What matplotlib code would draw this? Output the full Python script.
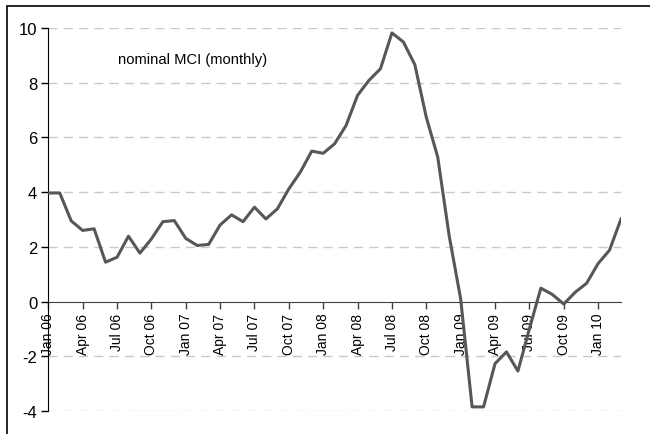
import numpy as np
import matplotlib.pyplot as plt
from matplotlib.patches import Rectangle

plt.rcParams['font.family'] = ['Liberation Sans', 'DejaVu Sans']
plt.rcParams['axes.unicode_minus'] = False

# monthly nominal MCI, Jan 06 .. Mar 10
mci = [3.97, 3.97, 2.95, 2.60, 2.66, 1.44, 1.62, 2.39, 1.77, 2.29, 2.92, 2.96,
       2.31, 2.05, 2.09, 2.80, 3.17, 2.92, 3.45, 3.02, 3.39, 4.12, 4.73, 5.50,
       5.42, 5.77, 6.44, 7.54, 8.09, 8.51, 9.82, 9.49, 8.66, 6.74, 5.28, 2.40,
       0.10, -3.85, -3.85, -2.27, -1.84, -2.54, -1.00, 0.49, 0.26, -0.09, 0.34, 0.67,
       1.39, 1.88, 3.02]
months = ['Jan', 'Feb', 'Mar', 'Apr', 'May', 'Jun',
          'Jul', 'Aug', 'Sep', 'Oct', 'Nov', 'Dec']
labels = ['%s %02d' % (months[i % 12], 6 + i // 12) for i in range(len(mci))]
yticks = [-4, -2, 0, 2, 4, 6, 8, 10]

x = np.arange(len(mci))

fig = plt.figure(figsize=(6.5, 4.35), dpi=100)
ax = fig.add_axes([0.0743, 0.0529, 0.9554 - 0.0743, 0.9333 - 0.0529])

# outer frame
fig.patches.append(Rectangle((7 / 650, -0.1), 1.2, 1 - 7 / 435 + 0.1,
                             transform=fig.transFigure, fill=False,
                             edgecolor='black', linewidth=1.2))

# spines first (moving a spine resets the ticks)
ax.spines['top'].set_visible(False)
ax.spines['right'].set_visible(False)
ax.spines['bottom'].set_position(('data', 0))
ax.spines['bottom'].set_color('#404040')
ax.spines['bottom'].set_zorder(2)
ax.spines['left'].set_color('black')

for yv in yticks:
    if yv != 0:
        ax.axhline(yv, color='#c8c8c8', linewidth=1.0, dashes=(6.5, 4.5), zorder=1)

ax.plot(x, mci, color='#575757', linewidth=2.2, zorder=3)

ax.set_xlim(0, len(mci) - 1)
ax.set_ylim(-4, 10)
ax.set_yticks(yticks)
ax.set_xticks(x[::3])
ax.set_xticklabels(labels[::3], rotation=90, fontsize=10)
ax.tick_params(axis='y', labelsize=12, length=5, width=1, direction='out', pad=3)
ax.tick_params(axis='x', length=5, width=1, color='#404040', direction='out', pad=3)

fig.text(118 / 650, 1 - 60 / 435, 'nominal MCI (monthly)', fontsize=10.6,
         va='center', ha='left')

fig.savefig('out.png', dpi=100)
